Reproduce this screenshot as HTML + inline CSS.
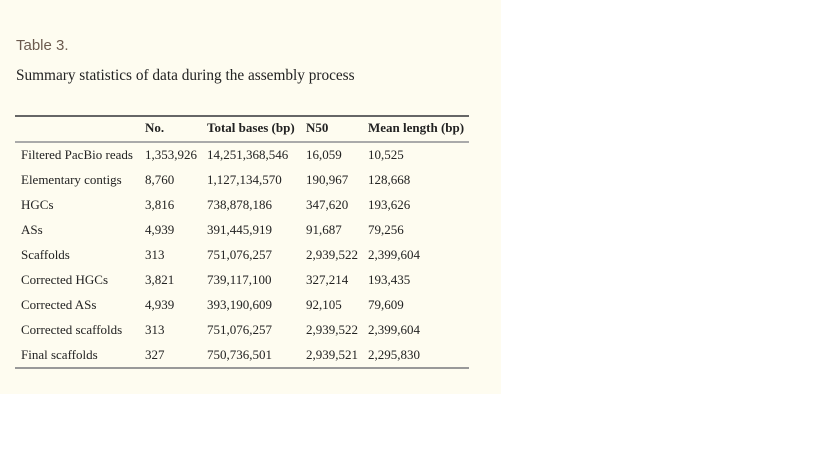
<!DOCTYPE html>
<html><head><meta charset="utf-8"><style>
body{margin:0;width:819px;height:460px;background:#fff;position:relative;overflow:hidden}
#panel{position:absolute;left:0;top:0;width:501px;height:394px;background:#fefcf0}
.t{position:absolute;white-space:nowrap;font-family:"Liberation Serif",serif;font-size:13px;color:#222;line-height:14px}
.rule{position:absolute;left:15px;width:454px}
</style></head><body>
<div id="panel"></div>
<div class="t" style="left:16px;top:38px;font-family:'Liberation Sans',sans-serif;font-size:15px;color:#6b5a4e;line-height:16px">Table 3.</div>
<div class="t" style="left:16px;top:68px;font-size:15.3px;line-height:16px">Summary statistics of data during the assembly process</div>
<div class="rule" style="top:115px;height:2px;background:#666"></div>
<div class="rule" style="top:141px;height:2px;background:#aaa"></div>
<div class="rule" style="top:367px;height:2px;background:#999"></div>
<div id="tbl"></div>
<script>
const headers=["","No.","Total bases (bp)","N50","Mean length (bp)"];
const labels=["Filtered PacBio reads","Elementary contigs","HGCs","ASs","Scaffolds","Corrected HGCs","Corrected ASs","Corrected scaffolds","Final scaffolds"];
const counts=["1,353,926","8,760","3,816","4,939","313","3,821","4,939","313","327"];
const totals=["14,251,368,546","1,127,134,570","738,878,186","391,445,919","751,076,257","739,117,100","393,190,609","751,076,257","750,736,501"];
const n50s=["16,059","190,967","347,620","91,687","2,939,522","327,214","92,105","2,939,522","2,939,521"];
const means=["10,525","128,668","193,626","79,256","2,399,604","193,435","79,609","2,399,604","2,295,830"];
const colX=[21,145,207,306,368];
const names=["row-label","count","total-bases","n50","mean-length"];
const tbl=document.getElementById('tbl');
function cell(txt,x,cy,bold){const d=document.createElement('div');d.className='t';d.textContent=txt;d.style.left=x+'px';d.style.top=(cy-7)+'px';if(bold)d.style.fontWeight='bold';tbl.appendChild(d);return d;}
headers.forEach((h,i)=>{if(!h)return;const d=cell(h,colX[i],128,true);

});
const cols=[labels,counts,totals,n50s,means];
labels.forEach((_,r)=>{cols.forEach((c,i)=>{const d=cell(c[r],colX[i],155+r*25,false);

});});
</script>
</body></html>
